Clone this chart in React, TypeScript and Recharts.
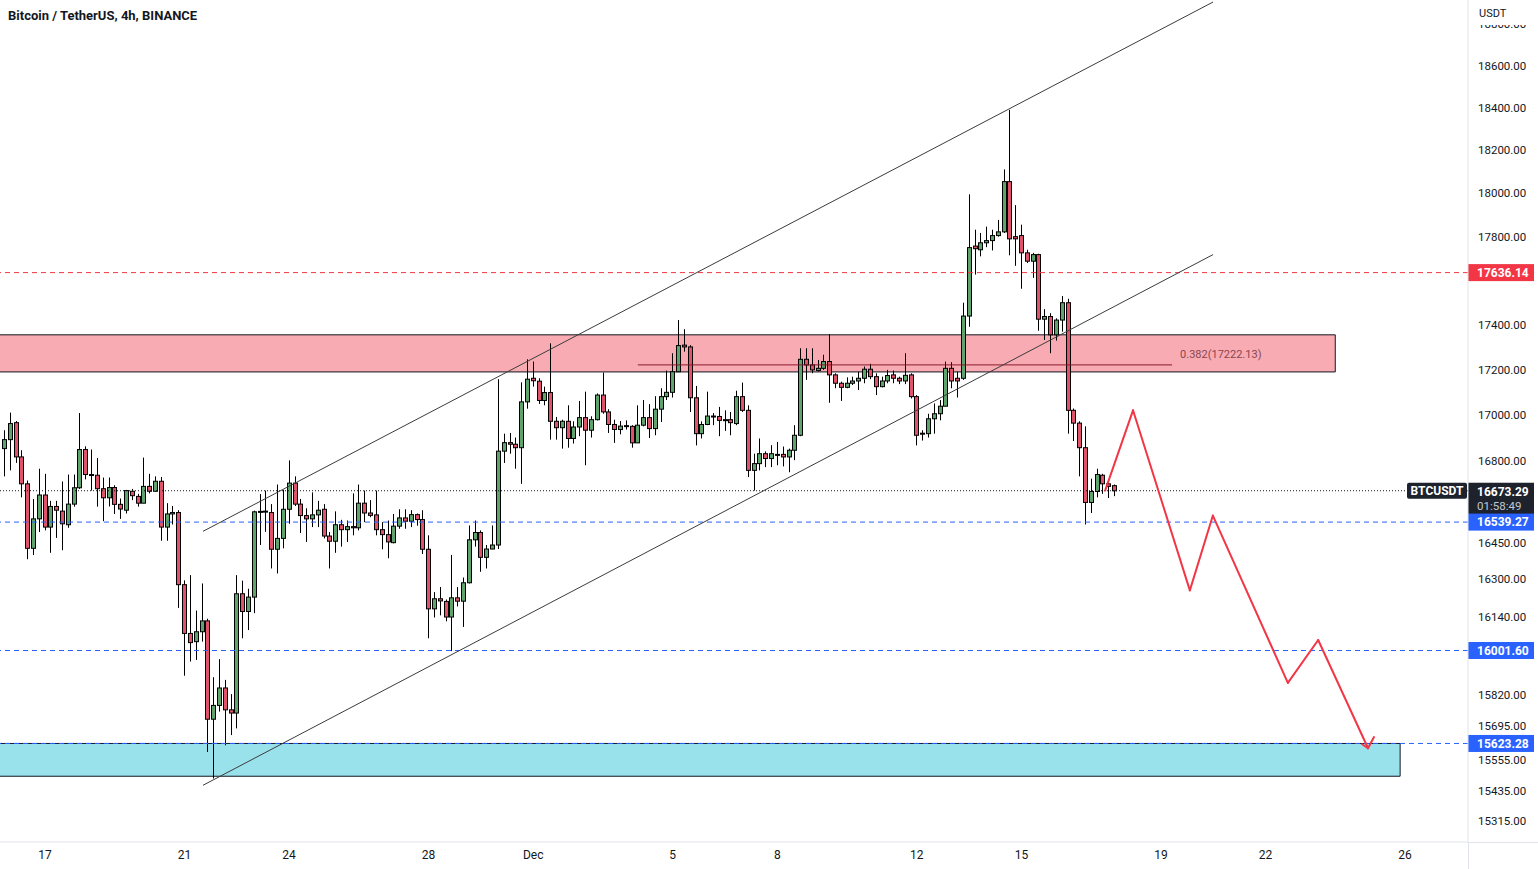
import React from 'react';
import { ComposedChart, Bar, XAxis, YAxis, ReferenceLine, ReferenceArea } from 'recharts';

const FONT = 'Roboto, "Noto Sans", "DejaVu Sans", sans-serif';
const UP = '#5ea46c';
const DOWN = '#e0536a';
const AXIS_X = 1468;

// x values are days counted from Nov 1 (Dec 1 = 31). 4h candles, first one Nov 15 20:00
const firstCandleDay = 17 - 7 / 6;
const X_MIN = 15.7095;
const X_MAX = 57.806;
const PRICE_MIN = 15232;
const PRICE_MAX = 18918;

// [open, high, low, close]
const candlesNov: [number, number, number, number][] = [
  [16855, 16935, 16735, 16894], [16894, 17012, 16761, 16964], [16968, 16975, 16793, 16819],
  [16819, 16848, 16645, 16703], [16703, 16717, 16382, 16428], [16428, 16638, 16400, 16553],
  [16553, 16768, 16497, 16655], [16655, 16746, 16504, 16518], [16518, 16630, 16409, 16606],
  [16606, 16630, 16472, 16590], [16586, 16713, 16420, 16532], [16528, 16743, 16515, 16616],
  [16616, 16743, 16605, 16686], [16686, 17010, 16681, 16851], [16851, 16865, 16722, 16743],
  [16743, 16851, 16674, 16740], [16740, 16814, 16605, 16682], [16682, 16730, 16543, 16643],
  [16643, 16730, 16606, 16687], [16687, 16697, 16574, 16615], [16615, 16640, 16553, 16595],
  [16590, 16677, 16576, 16674], [16671, 16681, 16633, 16652], [16649, 16660, 16605, 16620],
  [16620, 16816, 16620, 16692], [16692, 16746, 16662, 16671], [16671, 16735, 16671, 16714],
  [16714, 16732, 16460, 16518], [16518, 16620, 16460, 16574], [16574, 16608, 16529, 16580],
  [16580, 16590, 16178, 16275], [16275, 16293, 15898, 16072], [16072, 16315, 15956, 16034],
  [16038, 16167, 15963, 16079], [16079, 16280, 16038, 16124], [16124, 16133, 15589, 15721],
  [15721, 15892, 15483, 15777], [15777, 15966, 15752, 15848], [15848, 15881, 15616, 15759],
  [15759, 15823, 15657, 15746], [15746, 16315, 15684, 16237], [16237, 16292, 16052, 16163],
  [16163, 16258, 16086, 16223], [16223, 16588, 16156, 16583], [16583, 16659, 16442, 16585],
  [16583, 16674, 16498, 16586], [16580, 16616, 16343, 16424], [16424, 16700, 16322, 16470],
  [16470, 16677, 16428, 16594], [16594, 16804, 16532, 16706], [16706, 16735, 16608, 16616],
  [16616, 16638, 16493, 16567], [16567, 16598, 16455, 16553], [16553, 16666, 16518, 16570],
  [16570, 16630, 16518, 16590], [16594, 16616, 16470, 16480], [16480, 16497, 16343, 16458],
  [16458, 16585, 16409, 16528], [16528, 16549, 16435, 16507], [16507, 16546, 16455, 16520],
  [16520, 16662, 16483, 16515], [16515, 16700, 16504, 16620], [16620, 16674, 16539, 16578],
  [16578, 16633, 16560, 16568], [16570, 16674, 16483, 16507], [16507, 16539, 16424, 16486],
  [16486, 16546, 16386, 16455], [16452, 16574, 16449, 16522], [16522, 16594, 16511, 16557],
  [16557, 16594, 16511, 16543], [16543, 16590, 16518, 16571], [16571, 16576, 16524, 16550],
  [16550, 16590, 16404, 16424], [16424, 16483, 16052, 16174], [16174, 16244, 16138, 16216],
  [16216, 16265, 16147, 16207], [16205, 16213, 16122, 16140], [16140, 16400, 15999, 16220],
  [16220, 16265, 16184, 16206], [16206, 16305, 16099, 16283], [16283, 16525, 16280, 16464],
  [16464, 16546, 16435, 16495], [16495, 16504, 16329, 16390], [16390, 16442, 16343, 16425],
  [16425, 16525, 16424, 16442], [16442, 17159, 16425, 16844], [16844, 16920, 16793, 16881],
  [16881, 16923, 16833, 16874], [16874, 16903, 16768, 16859], [16859, 17145, 16703, 17059],
  [17059, 17247, 17029, 17159],
];

const candlesDec: [number, number, number, number][] = [
  [17163, 17237, 17126, 17152], [17150, 17163, 17050, 17065], [17065, 17126, 17044, 17100],
  [17100, 17318, 16894, 16974], [16974, 16993, 16894, 16946], [16946, 16981, 16855, 16974],
  [16974, 17044, 16859, 16899], [16899, 16974, 16877, 16949], [16949, 17063, 16909, 16990],
  [16990, 17104, 16783, 16935], [16935, 16996, 16903, 16981], [16981, 17096, 16978, 17089],
  [17089, 17188, 17007, 17015], [17015, 17027, 16923, 16960], [16960, 16981, 16880, 16938],
  [16938, 16975, 16917, 16953], [16953, 16978, 16938, 16955], [16952, 16957, 16859, 16880],
  [16880, 17044, 16880, 16957], [16957, 17067, 16952, 16990], [16990, 17049, 16901, 16942],
  [16942, 17084, 16913, 17027], [17027, 17119, 16971, 17082], [17082, 17197, 17067, 17101],
  [17101, 17274, 17078, 17192], [17192, 17422, 17192, 17308], [17310, 17381, 17281, 17302],
  [17302, 17310, 17015, 17077], [17077, 17129, 16869, 16920], [16920, 16974, 16899, 16960],
  [16960, 17104, 16957, 16997], [16997, 17010, 16957, 16995], [16995, 17037, 16909, 16978],
  [16978, 17022, 16932, 16981], [16981, 17015, 16913, 16968], [16964, 17108, 16957, 17082],
  [17082, 17144, 17015, 17022], [17022, 17044, 16732, 16761], [16761, 16833, 16674, 16790],
  [16790, 16899, 16761, 16833], [16833, 16843, 16775, 16812], [16812, 16870, 16775, 16833],
  [16830, 16884, 16783, 16830], [16830, 16864, 16778, 16819], [16819, 16855, 16753, 16848],
  [16848, 16957, 16805, 16913], [16913, 17296, 16909, 17247], [17247, 17296, 17156, 17222],
  [17222, 17296, 17185, 17200], [17197, 17244, 17193, 17207], [17207, 17267, 17200, 17237],
  [17237, 17359, 17055, 17178], [17178, 17185, 17119, 17141], [17141, 17148, 17063, 17123],
  [17123, 17167, 17119, 17141], [17141, 17170, 17133, 17151], [17151, 17192, 17111, 17163],
  [17163, 17215, 17141, 17203], [17203, 17227, 17159, 17170], [17170, 17185, 17089, 17126],
  [17126, 17170, 17123, 17151], [17151, 17200, 17141, 17175], [17178, 17197, 17141, 17163],
  [17163, 17170, 17137, 17151], [17151, 17274, 17137, 17176], [17178, 17185, 17074, 17082],
  [17082, 17089, 16869, 16913], [16920, 16935, 16890, 16922], [16920, 17007, 16903, 16985],
  [16985, 17052, 16920, 17007], [17007, 17067, 16978, 17040], [17040, 17237, 17040, 17207],
  [17207, 17234, 17119, 17151], [17163, 17192, 17078, 17151], [17163, 17500, 17156, 17440],
  [17440, 17995, 17392, 17750], [17757, 17832, 17627, 17745], [17740, 17817, 17710, 17772],
  [17772, 17846, 17752, 17782], [17782, 17832, 17737, 17805], [17805, 17877, 17800, 17822],
  [17822, 18111, 17817, 18054], [18054, 18390, 17715, 17790], [17800, 17945, 17667, 17790],
  [17805, 17855, 17563, 17726], [17726, 17740, 17680, 17688], [17688, 17726, 17612, 17718],
  [17718, 17722, 17374, 17426], [17426, 17471, 17333, 17438], [17438, 17453, 17274, 17356],
  [17356, 17430, 17330, 17422], [17422, 17530, 17370, 17500], [17500, 17518, 16920, 17022],
  [17022, 17030, 16888, 16966], [16966, 16974, 16735, 16859], [16859, 16952, 16529, 16623],
  [16623, 16725, 16578, 16670], [16670, 16768, 16645, 16743], [16740, 16746, 16660, 16703],
  [16703, 16717, 16642, 16692], [16695, 16700, 16650, 16673],
];

const dateTicks = [17, 21, 24, 28, 31, 35, 38, 42, 45, 49, 52, 56];
// 17600 and 15980 sit under the price tags, so they are left out
const priceTicks = [
  18800, 18600, 18400, 18200, 18000, 17800, 17400, 17200, 17000, 16800,
  16450, 16300, 16140, 15820, 15695, 15555, 15435, 15315,
];

const resistanceZone = { from: 15, to: 54, low: 17191, high: 17356 };
const supportZone = { from: 15, to: 55.86, low: 15492, high: 15623.28 };
const fibLevel = { from: 34.0, to: 49.32, price: 17222.13 };
const upperChannel = [{ t: 21.531, p: 16500 }, { t: 50.494, p: 18908 }];
const lowerChannel = [{ t: 21.531, p: 15456 }, { t: 50.494, p: 17718 }];
const projection = [
  { t: 47.4, p: 16674 }, { t: 48.2, p: 17022 }, { t: 49.83, p: 16251 }, { t: 50.49, p: 16567 },
  { t: 52.64, p: 15869 }, { t: 53.51, p: 16045 }, { t: 54.94, p: 15604 },
];
const arrowHead = [{ t: 54.77, p: 15620 }, { t: 54.94, p: 15604 }, { t: 55.11, p: 15649 }];

const lastPrice = 16673.29;
const countdown = '01:58:49';
const redLevel = 17636.14;
const blueLevels = [16539.27, 16001.6, 15623.28];

const bars = [...candlesNov, ...candlesDec].map(([open, high, low, close], i) => ({
  t: firstCandleDay + i / 6,
  open,
  high,
  low,
  close,
  range: [low, high],
}));

function fmtDate(t: number) {
  if (t === 31) return 'Dec';
  return String(t > 31 ? t - 30 : t);
}

function Candle(props: any) {
  const { x, y, width, height, payload } = props;
  if (x == null || y == null || !payload) return null;
  const top = Math.min(y, y + height);
  const h = Math.abs(height);
  const { open, close, high, low } = payload;
  const span = Math.log(high) - Math.log(low);
  const py = (v: number) => (span > 0 ? top + ((Math.log(high) - Math.log(v)) / span) * h : top);
  const bTop = py(Math.max(open, close));
  const bBot = py(Math.min(open, close));
  const cx = Math.round(x + width / 2);
  const up = close >= open;
  return (
    <g>
      <line x1={cx + 0.5} x2={cx + 0.5} y1={top} y2={top + h} stroke="#000" strokeWidth={1} />
      <rect
        x={cx - 1.5}
        y={bTop}
        width={4}
        height={Math.max(bBot - bTop, 1)}
        fill={up ? UP : DOWN}
        stroke="#000"
        strokeWidth={1}
      />
    </g>
  );
}

function PriceTick(props: any) {
  const { x, y, payload } = props;
  return (
    <text x={x + 10} y={y} dy="0.35em" fill="#131722" fontSize={11.5} fontFamily={FONT} textAnchor="start">
      {Number(payload.value).toFixed(2)}
    </text>
  );
}

function PriceTag(props: any) {
  const { viewBox, text, fill } = props;
  if (!viewBox) return null;
  const y = viewBox.y;
  return (
    <g>
      <rect x={AXIS_X} y={y - 8.5} width={66} height={17} fill={fill} />
      <text x={AXIS_X + 9} y={y} dy="0.36em" fill="#fff" fontSize={12} fontWeight={700} fontFamily={FONT}>
        {text}
      </text>
    </g>
  );
}

function LastPriceTag(props: any) {
  const { viewBox } = props;
  if (!viewBox) return null;
  const y = viewBox.y;
  return (
    <g>
      <rect x={1407} y={y - 8} width={60} height={16} fill="#1e222d" rx={2} />
      <text x={1437} y={y} dy="0.36em" fill="#fff" fontSize={12} fontWeight={700} fontFamily={FONT} textAnchor="middle">
        BTCUSDT
      </text>
      <rect x={AXIS_X} y={y - 8} width={66} height={33} fill="#1e222d" />
      <text x={AXIS_X + 9} y={y + 1} dy="0.36em" fill="#fff" fontSize={12} fontWeight={700} fontFamily={FONT}>
        {lastPrice.toFixed(2)}
      </text>
      <text x={AXIS_X + 9} y={y + 15} dy="0.36em" fill="#c3c6ce" fontSize={11.5} fontFamily={FONT}>
        {countdown}
      </text>
    </g>
  );
}

function FibLabel(props: any) {
  const { viewBox } = props;
  if (!viewBox) return null;
  return (
    <text x={viewBox.x + viewBox.width + 8} y={viewBox.y - 7} fill="#8a4650" fontSize={11} fontFamily={FONT}>
      0.382(17222.13)
    </text>
  );
}

export default function App() {
  const seg = (a: { t: number; p: number }, b: { t: number; p: number }) => [
    { x: a.t, y: a.p },
    { x: b.t, y: b.p },
  ];
  return (
    <div style={{ position: 'fixed', left: 0, top: 0, width: 1538, height: 869, background: '#fff', overflow: 'hidden' }}>
      <ComposedChart width={1538} height={869} data={bars} margin={{ top: 0, right: 0, bottom: 0, left: 0 }}>
        <XAxis
          dataKey="t"
          type="number"
          domain={[X_MIN, X_MAX]}
          allowDataOverflow
          ticks={dateTicks}
          interval={0}
          tickFormatter={fmtDate}
          height={27}
          tickLine={false}
          tickSize={0}
          tickMargin={8}
          axisLine={{ stroke: '#e0e3eb' }}
          tick={{ fill: '#131722', fontSize: 12, fontFamily: FONT }}
        />
        <YAxis
          orientation="right"
          scale="log"
          domain={[PRICE_MIN, PRICE_MAX]}
          allowDataOverflow
          ticks={priceTicks}
          interval={0}
          width={70}
          tickLine={false}
          tickSize={0}
          tickMargin={0}
          axisLine={{ stroke: '#e0e3eb' }}
          tick={<PriceTick />}
        />
        <ReferenceArea
          x1={resistanceZone.from}
          x2={resistanceZone.to}
          y1={resistanceZone.low}
          y2={resistanceZone.high}
          fill="#f8abb2"
          fillOpacity={1}
          stroke="#131722"
          strokeWidth={1}
          ifOverflow="hidden"
        />
        <ReferenceArea
          x1={supportZone.from}
          x2={supportZone.to}
          y1={supportZone.low}
          y2={supportZone.high}
          fill="#99e2ec"
          fillOpacity={1}
          stroke="#131722"
          strokeWidth={1}
          ifOverflow="hidden"
        />
        <ReferenceLine
          segment={[{ x: fibLevel.from, y: fibLevel.price }, { x: fibLevel.to, y: fibLevel.price }]}
          stroke="#8b1a2b"
          strokeWidth={1}
          ifOverflow="visible"
          label={<FibLabel />}
        />
        <ReferenceLine y={lastPrice} stroke="#131722" strokeDasharray="1 2" label={<LastPriceTag />} ifOverflow="visible" />
        <ReferenceLine y={redLevel} stroke="#f23645" strokeDasharray="5 4" label={<PriceTag text={redLevel.toFixed(2)} fill="#f23645" />} />
        {blueLevels.map((v) => (
          <ReferenceLine key={v} y={v} stroke="#2962ff" strokeDasharray="5 4" label={<PriceTag text={v.toFixed(2)} fill="#2962ff" />} />
        ))}
        <ReferenceLine segment={seg(upperChannel[0], upperChannel[1])} stroke="#3c3c3c" strokeWidth={1} ifOverflow="visible" />
        <ReferenceLine segment={seg(lowerChannel[0], lowerChannel[1])} stroke="#3c3c3c" strokeWidth={1} ifOverflow="visible" />
        <Bar dataKey="range" shape={<Candle />} barSize={5} isAnimationActive={false} />
        {projection.slice(1).map((p, i) => (
          <ReferenceLine
            key={'pr' + i}
            segment={seg(projection[i], p)}
            stroke="#f23645"
            strokeWidth={2}
            strokeLinecap="round"
            ifOverflow="visible"
          />
        ))}
        {arrowHead.slice(1).map((p, i) => (
          <ReferenceLine
            key={'ah' + i}
            segment={seg(arrowHead[i], p)}
            stroke="#f23645"
            strokeWidth={2}
            strokeLinecap="round"
            ifOverflow="visible"
          />
        ))}
      </ComposedChart>
      <div style={{ position: 'absolute', left: 8, top: 8, fontFamily: FONT, fontSize: 13, fontWeight: 700, color: '#131722' }}>
        Bitcoin / TetherUS, 4h, BINANCE
      </div>
      <div
        style={{
          position: 'absolute',
          left: AXIS_X + 1,
          top: 0,
          width: 69,
          height: 25,
          background: '#fff',
          fontFamily: FONT,
          fontSize: 11,
          color: '#131722',
        }}
      >
        <span style={{ position: 'absolute', left: 10, top: 7 }}>USDT</span>
      </div>
      <div style={{ position: 'absolute', left: AXIS_X, top: 842, width: 70, height: 1, background: '#e0e3eb' }} />
      <div style={{ position: 'absolute', left: AXIS_X, top: 842, width: 1, height: 27, background: '#e0e3eb' }} />
    </div>
  );
}
